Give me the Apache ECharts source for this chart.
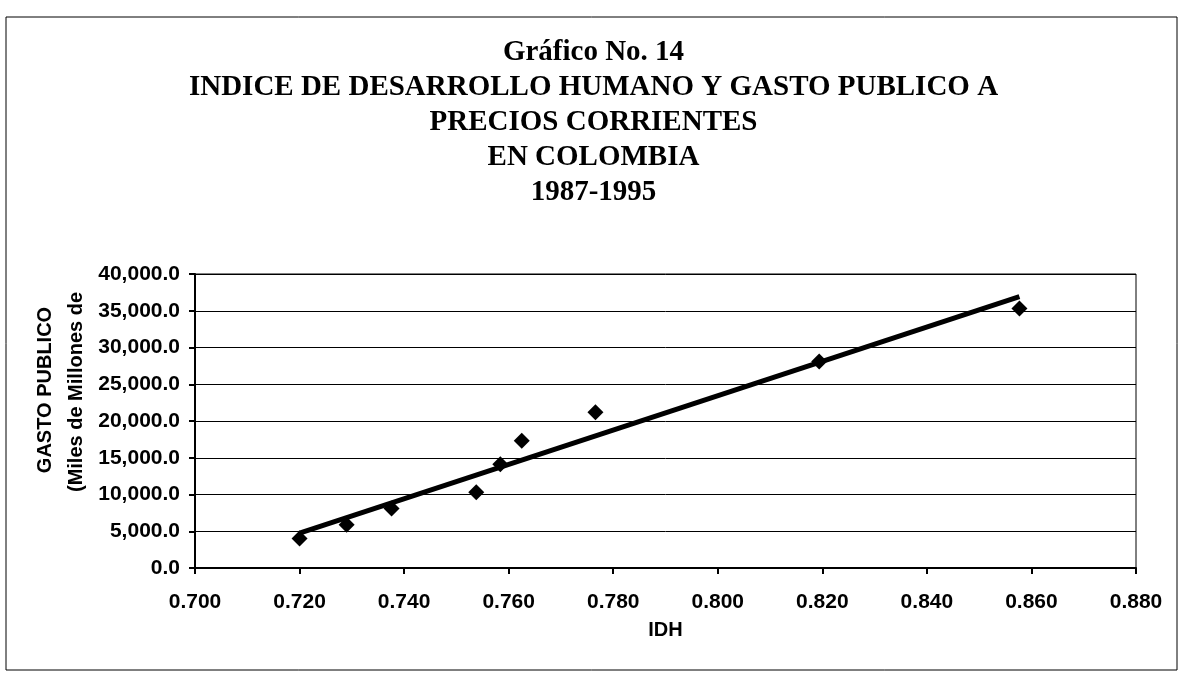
<!DOCTYPE html>
<html>
<head>
<meta charset="utf-8">
<script src="https://cdn.jsdelivr.net/npm/echarts@6/dist/echarts.min.js"></script>
<style>
  html, body { margin: 0; padding: 0; background: #fff; }
  #chart { width: 1187px; height: 676px; }
</style>
</head>
<body>
<div id="chart"></div>
<script>
// IDH vs gasto publico, Colombia 1987-1995
var titleLines = ['Gráfico No. 14', 'INDICE DE DESARROLLO HUMANO Y GASTO PUBLICO A', 'PRECIOS CORRIENTES', 'EN COLOMBIA', '1987-1995'];
var idh = [0.720, 0.729, 0.7376, 0.7538, 0.7584, 0.7625, 0.7766, 0.8194, 0.8577];
var gasto = [4000, 5900, 8100, 10300, 14100, 17300, 21200, 28100, 35300];
var yNameLines = ['GASTO PUBLICO', '(Miles de Millones de'];
var xName = 'IDH';

// linear trend (least squares), drawn from min to max x
function trend(xs, ys) {
    var n = xs.length, mx = 0, my = 0, sxy = 0, sxx = 0;
    for (var i = 0; i < n; i++) { mx += xs[i]; my += ys[i]; }
    mx /= n; my /= n;
    for (var j = 0; j < n; j++) {
        sxy += (xs[j] - mx) * (ys[j] - my);
        sxx += (xs[j] - mx) * (xs[j] - mx);
    }
    var b = sxy / sxx, a = my - b * mx;
    var x0 = Math.min.apply(null, xs), x1 = Math.max.apply(null, xs);
    return [[x0, a + b * x0], [x1, a + b * x1]];
}

var points = idh.map(function (v, i) { return [v, gasto[i]]; });
var labelFont = { fontFamily: 'Liberation Sans', fontWeight: 'bold', fontSize: 21, color: '#000' };

var chart = echarts.init(document.getElementById('chart'));
var option = {
    backgroundColor: '#fff',
    animation: false,
    title: {
        text: titleLines.join('\n'),
        left: 'center',
        top: 30,
        textStyle: {
            fontFamily: 'Liberation Serif',
            fontWeight: 'bold',
            fontSize: 29,
            lineHeight: 35,
            color: '#000'
        }
    },
    graphic: [
        {
            type: 'rect',
            shape: { x: 6, y: 17, width: 1171, height: 653 },
            style: { fill: 'none', stroke: '#000', lineWidth: 1 }
        },
        {
            type: 'text', x: 45, y: 390, rotation: Math.PI / 2,
            style: { text: yNameLines[0], align: 'center', verticalAlign: 'middle',
                font: 'bold 20px "Liberation Sans"', fill: '#000' }
        },
        {
            type: 'text', x: 76, y: 392, rotation: Math.PI / 2,
            style: { text: yNameLines[1], align: 'center', verticalAlign: 'middle',
                font: 'bold 20px "Liberation Sans"', fill: '#000' }
        }
    ],
    grid: {
        left: 195, right: 51, top: 274, bottom: 108,
        show: true, borderColor: '#000', borderWidth: 1
    },
    xAxis: {
        type: 'value',
        min: 0.7, max: 0.88, interval: 0.02,
        name: xName,
        nameLocation: 'middle',
        nameGap: 52,
        nameTextStyle: { fontFamily: 'Liberation Sans', fontWeight: 'bold', fontSize: 20, color: '#000' },
        axisLine: { lineStyle: { color: '#000', width: 2 } },
        axisTick: { show: true, length: 6, lineStyle: { color: '#000', width: 2 } },
        axisLabel: Object.assign({
            margin: 24,
            formatter: function (v) { return v.toFixed(3); }
        }, labelFont),
        splitLine: { show: false }
    },
    yAxis: {
        type: 'value',
        min: 0, max: 40000, interval: 5000,
        axisLine: { show: true, lineStyle: { color: '#000', width: 2 } },
        axisTick: { show: true, length: 6, lineStyle: { color: '#000', width: 2 } },
        axisLabel: Object.assign({
            margin: 15,
            formatter: function (v) {
                return v.toLocaleString('en-US', { minimumFractionDigits: 1, maximumFractionDigits: 1 });
            }
        }, labelFont),
        splitLine: { show: true, lineStyle: { color: '#000', width: 1 } }
    },
    series: [
        {
            type: 'scatter',
            data: points,
            symbol: 'diamond',
            symbolSize: 16,
            itemStyle: { color: '#000', opacity: 1 },
            z: 3
        },
        {
            type: 'line',
            data: trend(idh, gasto),
            showSymbol: false,
            symbol: 'none',
            lineStyle: { color: '#000', width: 5 },
            z: 4
        }
    ]
};
chart.setOption(option);
</script>
</body>
</html>
